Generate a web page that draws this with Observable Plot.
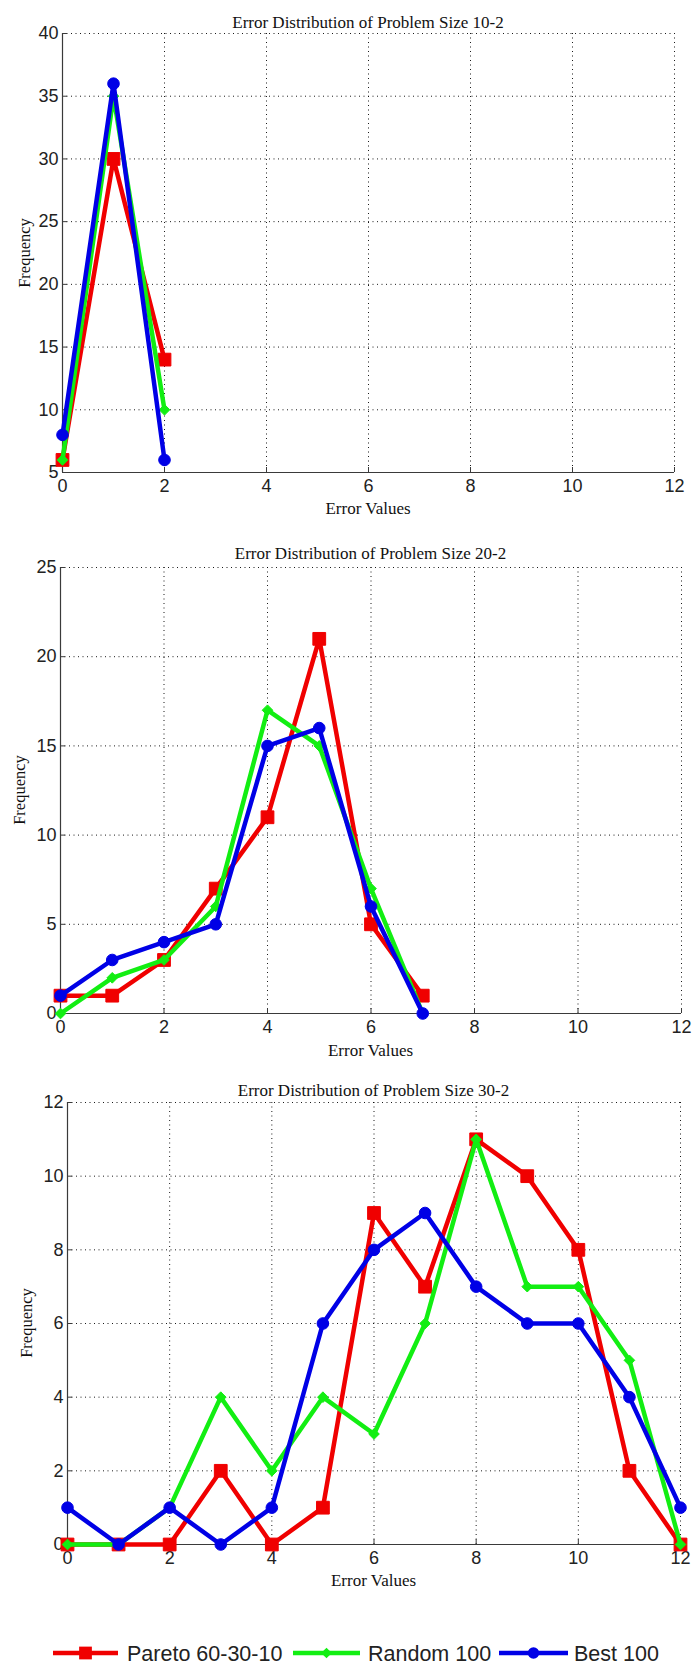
<!DOCTYPE html>
<html><head><meta charset="utf-8">
<script src="https://cdn.jsdelivr.net/npm/d3@7"></script>
<script src="https://cdn.jsdelivr.net/npm/@observablehq/plot@0.6"></script>
<style>
body{margin:0;background:#fff;}
#root{position:relative;width:693px;height:1668px;overflow:hidden;background:#fff;}
.abs{position:absolute;}
.ttl{font-family:"Liberation Serif","Times New Roman",serif;font-size:17px;color:#111;transform:translate(-50%,-50%);white-space:nowrap;line-height:1;}
.ylab{font-family:"Liberation Serif","Times New Roman",serif;font-size:16.5px;color:#111;transform:translate(-50%,-50%) rotate(-90deg);white-space:nowrap;line-height:1;}
</style></head>
<body><div id="root"></div>
<script>
// ---- data ----
const seriesNames = ["Pareto 60-30-10", "Random 100", "Best 100"];
const seriesColors = ["#f00000", "#12ee12", "#0000e6"];
const seriesSymbols = ["square", "diamond2", "circle"];

const errors1 = [0, 1, 2];
const pareto1 = [6, 30, 14];
const random1 = [6, 35, 10];
const best1 = [8, 36, 6];

const errors2 = [0, 1, 2, 3, 4, 5, 6, 7];
const pareto2 = [1, 1, 3, 7, 11, 21, 5, 1];
const random2 = [0, 2, 3, 6, 17, 15, 7, 0];
const best2 = [1, 3, 4, 5, 15, 16, 6, 0];

const errors3 = [0, 1, 2, 3, 4, 5, 6, 7, 8, 9, 10, 11, 12];
const pareto3 = [0, 0, 0, 2, 0, 1, 9, 7, 11, 10, 8, 2, 0];
const random3 = [0, 0, 1, 4, 2, 4, 3, 6, 11, 7, 7, 5, 0];
const best3 = [1, 0, 1, 0, 1, 6, 8, 9, 7, 6, 6, 4, 1];

const xTicks = [0, 2, 4, 6, 8, 10, 12];
const yTicks1 = [5, 10, 15, 20, 25, 30, 35, 40];
const yTicks2 = [0, 5, 10, 15, 20, 25];
const yTicks3 = [0, 2, 4, 6, 8, 10, 12];

const titles = ["Error Distribution of Problem Size 10-2", "Error Distribution of Problem Size 20-2", "Error Distribution of Problem Size 30-2"];
const xLabel = "Error Values";
const yLabel = "Frequency";

// ---- layout ----
const charts = [
  {errors: errors1, series: [pareto1, random1, best1], yTicks: yTicks1, top: 0, height: 520, mt: 33, mb: 48, ml: 62, mr: 19, titleY: 22, xlabY: 508, ylabX: 25},
  {errors: errors2, series: [pareto2, random2, best2], yTicks: yTicks2, top: 530, height: 520, mt: 37, mb: 37, ml: 60, mr: 12, titleY: 553, xlabY: 1050, ylabX: 20},
  {errors: errors3, series: [pareto3, random3, best3], yTicks: yTicks3, top: 1060, height: 520, mt: 42, mb: 36, ml: 67, mr: 13, titleY: 1090, xlabY: 1580, ylabX: 27}
];
const symbolR = [7.2, 4.8, 5.8];

const root = document.getElementById("root");
const W = 693;

charts.forEach((c, ci) => {
  const yDom = [c.yTicks[0], c.yTicks[c.yTicks.length - 1]];
  const xDom = [xTicks[0], xTicks[xTicks.length - 1]];
  const marks = [
    Plot.gridX(xTicks, {stroke: "#000", strokeOpacity: 0.9, strokeDasharray: "1,3.5"}),
    Plot.gridY(c.yTicks, {stroke: "#000", strokeOpacity: 0.9, strokeDasharray: "1,3.5"}),
    Plot.ruleX([xDom[0]], {stroke: "#3a3a3a", strokeWidth: 1.2}),
    Plot.ruleY([yDom[0]], {stroke: "#3a3a3a", strokeWidth: 1.2}),
    Plot.axisX({ticks: xTicks, tickSize: -5, tickFormat: () => "", label: null, stroke: "#3a3a3a"}),
    Plot.axisY({ticks: c.yTicks, tickSize: -5, tickFormat: () => "", label: null, stroke: "#3a3a3a"}),
    Plot.axisX({ticks: xTicks, tickSize: 0, tickPadding: 7, fontSize: 18, label: null, fill: "#222"}),
    Plot.axisY({ticks: c.yTicks, tickSize: 0, tickPadding: 4, fontSize: 18, label: null, fill: "#222"})
  ];
  c.series.forEach((vals, si) => {
    const data = c.errors.map((e, i) => ({e, v: vals[i]}));
    marks.push(Plot.line(data, {x: "e", y: "v", stroke: seriesColors[si], strokeWidth: 4.5, strokeLinejoin: "round"}));
    marks.push(Plot.dot(data, {x: "e", y: "v", symbol: seriesSymbols[si], r: symbolR[si], fill: seriesColors[si], stroke: seriesColors[si], strokeWidth: 1}));
  });
  const svg = Plot.plot({
    width: W, height: c.height,
    marginTop: c.mt, marginBottom: c.mb, marginLeft: c.ml, marginRight: c.mr,
    x: {domain: xDom},
    y: {domain: yDom},
    style: {fontFamily: "'Liberation Sans', Arial, sans-serif", fontSize: "18px", background: "transparent", overflow: "visible"},
    marks
  });
  svg.style.position = "absolute";
  svg.style.left = "0px";
  svg.style.top = c.top + "px";
  root.appendChild(svg);

  const cx = c.ml + (W - c.ml - c.mr) / 2;
  const t = document.createElement("div");
  t.className = "abs ttl"; t.textContent = titles[ci];
  t.style.left = cx + "px"; t.style.top = c.titleY + "px";
  root.appendChild(t);
  const xl = document.createElement("div");
  xl.className = "abs ttl"; xl.textContent = xLabel;
  xl.style.left = cx + "px"; xl.style.top = c.xlabY + "px";
  root.appendChild(xl);
  const yl = document.createElement("div");
  yl.className = "abs ylab"; yl.textContent = yLabel;
  yl.style.left = c.ylabX + "px"; yl.style.top = (c.top + c.mt + (c.height - c.mt - c.mb) / 2) + "px";
  root.appendChild(yl);
});

// ---- legend ----
const legendSeg = [[53, 118], [293, 360], [499, 568]];
const legendTextX = [127, 368, 574];
const legendY = 1653;
const ns = "http://www.w3.org/2000/svg";
const lg = document.createElementNS(ns, "svg");
lg.setAttribute("width", W); lg.setAttribute("height", 40);
lg.style.position = "absolute"; lg.style.left = "0px"; lg.style.top = (legendY - 20) + "px";
seriesNames.forEach((name, i) => {
  const [a, b] = legendSeg[i];
  const ln = document.createElementNS(ns, "line");
  ln.setAttribute("x1", a); ln.setAttribute("x2", b); ln.setAttribute("y1", 20); ln.setAttribute("y2", 20);
  ln.setAttribute("stroke", seriesColors[i]); ln.setAttribute("stroke-width", 4.5);
  lg.appendChild(ln);
  const m = document.createElementNS(ns, "path");
  const sym = {square: d3.symbolSquare, diamond2: d3.symbolDiamond2, circle: d3.symbolCircle}[seriesSymbols[i]];
  m.setAttribute("d", d3.symbol(sym, symbolR[i] * symbolR[i] * Math.PI)());
  m.setAttribute("transform", `translate(${(a + b) / 2},20)`);
  m.setAttribute("fill", seriesColors[i]);
  lg.appendChild(m);
  const tx = document.createElementNS(ns, "text");
  tx.setAttribute("x", legendTextX[i]); tx.setAttribute("y", 20); tx.setAttribute("dy", "0.35em");
  tx.setAttribute("font-family", "'Liberation Sans', Arial, sans-serif");
  tx.setAttribute("font-size", 21.5); tx.setAttribute("fill", "#222");
  tx.textContent = name;
  lg.appendChild(tx);
});
root.appendChild(lg);
</script>
</body></html>
